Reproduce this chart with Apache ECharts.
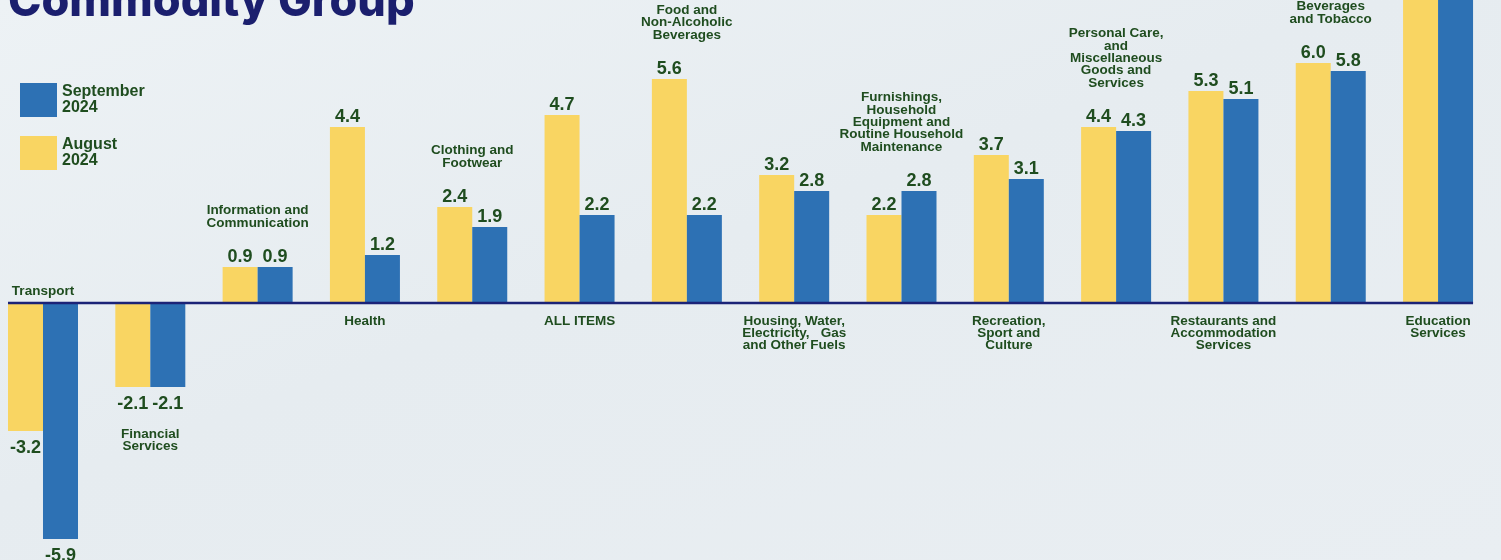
<!DOCTYPE html>
<html>
<head>
<meta charset="utf-8">
<script src="https://cdn.jsdelivr.net/npm/echarts@6/dist/echarts.min.js"></script>
<style>
html,body{margin:0;padding:0;}
#c{width:1501px;height:560px;background:linear-gradient(160deg,#edf2f5 0%,#e6ecf0 45%,#e9eef2 100%);}
</style>
</head>
<body>
<div id="c"></div>
<script>
const categories = [
  'Transport',
  'Financial\nServices',
  'Information and\nCommunication',
  'Health',
  'Clothing and\nFootwear',
  'ALL ITEMS',
  'Food and\nNon-Alcoholic\nBeverages',
  'Housing, Water,\nElectricity,   Gas\nand Other Fuels',
  'Furnishings,\nHousehold\nEquipment and\nRoutine Household\nMaintenance',
  'Recreation,\nSport and\nCulture',
  'Personal Care,\nand\nMiscellaneous\nGoods and\nServices',
  'Restaurants and\nAccommodation\nServices',
  'Alcoholic\nBeverages\nand Tobacco',
  'Education\nServices'
];
const august2024    = [-3.2, -2.1, 0.9, 4.4, 2.4, 4.7, 5.6, 3.2, 2.2, 3.7, 4.4, 5.3, 6.0, 8.6];
const september2024 = [-5.9, -2.1, 0.9, 1.2, 1.9, 2.2, 2.2, 2.8, 2.8, 3.1, 4.3, 5.1, 5.8, 8.6];
const seriesNames = ['August 2024', 'September 2024'];
const titleText = 'Commodity Group';

const GREEN = '#1f4d1f';
const FONT = '"Liberation Sans", Arial, sans-serif';
const chart = echarts.init(document.getElementById('c'), null, {renderer: 'canvas'});

// category slots on a value axis: slot i is centred on x = i
const SLOT_MIN = -0.4007;
const SLOT_MAX = 13.5866;

const valueLabel = {
  show: true,
  position: 'top',
  distance: 1,
  color: GREEN,
  fontFamily: FONT,
  fontWeight: 'bold',
  fontSize: 18,
  formatter: p => p.value[1].toFixed(1)
};
function barData(vals) {
  return vals.map((v, i) => ({
    value: [i, v],
    label: v < 0 ? {position: 'bottom', distance: 8} : {position: 'top'}
  }));
}

const option = {
  animation: false,
  backgroundColor: 'transparent',
  grid: {left: 0, right: 0, top: 0, bottom: 0, containLabel: false},
  legend: {
    orient: 'vertical',
    left: 20,
    top: 83,
    padding: 0,
    itemWidth: 37,
    itemHeight: 34,
    itemGap: 19,
    icon: 'rect',
    data: [seriesNames[1], seriesNames[0]],
    formatter: n => n.replace(' ', '\n'),
    textStyle: {color: GREEN, fontFamily: FONT, fontWeight: 'bold', fontSize: 16, lineHeight: 16}
  },
  xAxis: {
    type: 'value',
    min: SLOT_MIN,
    max: SLOT_MAX,
    axisLine: {show: false},
    axisTick: {show: false},
    axisLabel: {show: false},
    splitLine: {show: false}
  },
  yAxis: {
    type: 'value',
    min: -6.425,
    max: 7.575,
    axisLine: {show: false},
    axisTick: {show: false},
    axisLabel: {show: false},
    splitLine: {show: false}
  },
  series: [
    {
      name: seriesNames[0],
      type: 'bar',
      barWidth: 35,
      barGap: '0%',
      itemStyle: {color: '#f9d562'},
      label: valueLabel,
      data: barData(august2024)
    },
    {
      name: seriesNames[1],
      type: 'bar',
      barWidth: 35,
      barGap: '0%',
      itemStyle: {color: '#2d71b4'},
      label: valueLabel,
      data: barData(september2024)
    },
    {
      name: 'names',
      type: 'custom',
      silent: true,
      z: 5,
      data: categories.map((c, i) => [i, 0]),
      renderItem: function (params, api) {
        const i = api.value(0);
        const a = august2024[i], s = september2024[i];
        const mx = Math.max(a, s), mn = Math.min(a, s);
        const x = api.coord([i, 0])[0];
        let y, va;
        if (i % 2 === 0) {
          y = api.coord([i, Math.max(0, mx)])[1] - (mx > 0 ? 38 : 6);
          va = 'bottom';
        } else {
          y = api.coord([i, Math.min(0, mn)])[1] + (mn < 0 ? 41 : 12);
          va = 'top';
        }
        return {
          type: 'text',
          style: {
            text: categories[i],
            x: x,
            y: y,
            align: 'center',
            verticalAlign: va,
            fill: GREEN,
            font: 'bold 13.5px ' + FONT,
            lineHeight: 12.3
          }
        };
      }
    }
  ]
};
chart.setOption(option);

// zero baseline spanning the outer edges of the first and last bar pairs
const x0 = chart.convertToPixel({xAxisIndex: 0}, 0) - 35;
const x1 = chart.convertToPixel({xAxisIndex: 0}, categories.length - 1) + 35;
const y0 = chart.convertToPixel({yAxisIndex: 0}, 0);
chart.setOption({
  graphic: [
    {
      type: 'line',
      z: 10,
      shape: {x1: x0, y1: y0, x2: x1, y2: y0},
      style: {stroke: '#1b2377', lineWidth: 2.5}
    },
    {
      type: 'text',
      left: 8,
      top: -20,
      z: 10,
      style: {
        text: titleText,
        fill: '#1b1f6e',
        font: '800 45px Inter, "Open Sans", sans-serif',
        shadowColor: 'rgba(60,60,80,0.55)',
        shadowOffsetX: 2,
        shadowOffsetY: 3,
        shadowBlur: 2
      }
    }
  ]
});
</script>
</body>
</html>
